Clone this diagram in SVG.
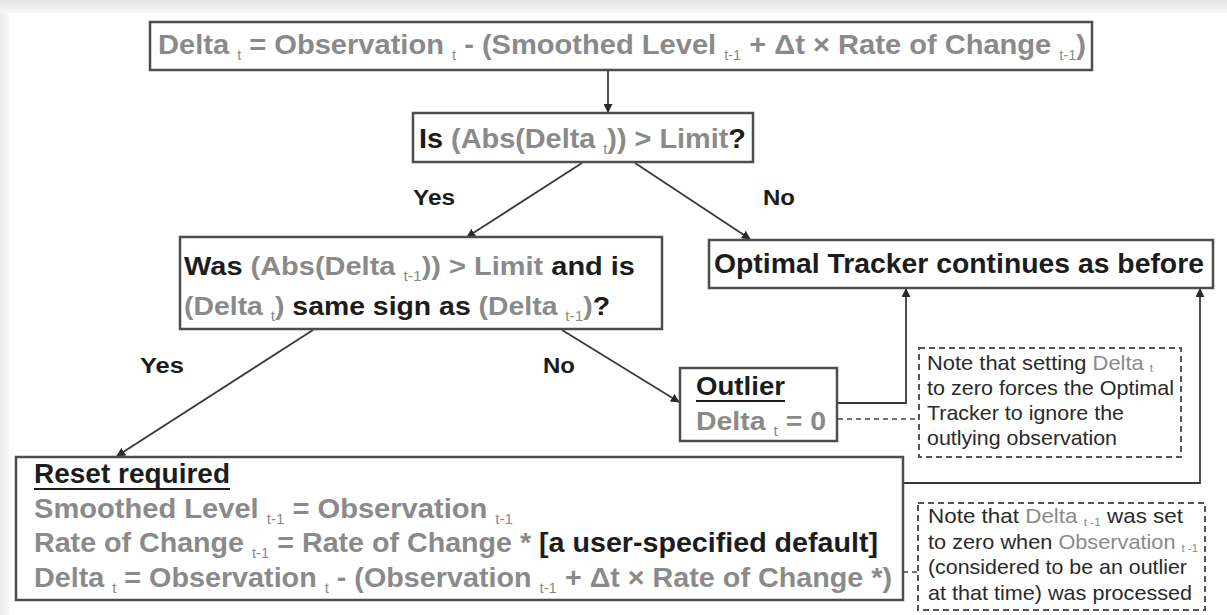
<svg xmlns="http://www.w3.org/2000/svg" width="1227" height="615" viewBox="0 0 1227 615">
  <defs>
    <linearGradient id="topShade" x1="0" y1="0" x2="0" y2="1">
      <stop offset="0" stop-color="#e4e4e4"/>
      <stop offset="1" stop-color="#f7f7f7"/>
    </linearGradient>
    <linearGradient id="leftShade" x1="0" y1="0" x2="1" y2="0">
      <stop offset="0" stop-color="#ececec"/>
      <stop offset="1" stop-color="#f8f8f8"/>
    </linearGradient>
    <marker id="arrow" viewBox="0 0 10 10" refX="9" refY="5" markerWidth="9" markerHeight="9" markerUnits="userSpaceOnUse" orient="auto">
      <path d="M0,0 L10,5 L0,10 z" fill="#2a2a2a"/>
    </marker>
    <style>
      .box { fill: #ffffff; stroke: #4d4d4d; stroke-width: 2.5; }
      .note { fill: #ffffff; stroke: #555555; stroke-width: 2; stroke-dasharray: 6 4; }
      .conn { fill: none; stroke: #3a3a3a; stroke-width: 1.8; }
      .dash { fill: none; stroke: #444444; stroke-width: 1.6; stroke-dasharray: 5 4; }
      text { font-family: "Liberation Sans Narrow", "Liberation Sans", Arial, sans-serif; font-weight: bold; fill: #1c1c1c; }
      .wide { font-family: "Liberation Sans", Arial, sans-serif; }
      .g { fill: #8a8a8a; }
      .k { fill: #1c1c1c; }
      .sub { font-size: 14px; font-weight: normal; }
      .nsub { font-size: 11px; font-weight: normal; }
      .lbl { font-size: 22px; }
      .nt { font-size: 21px; font-weight: normal; fill: #2a2a2a; }
      .ul { fill: none; stroke: #1c1c1c; stroke-width: 2; }
    </style>
  </defs>

  <!-- page background with soft frame -->
  <rect x="0" y="0" width="1227" height="615" fill="#ffffff"/>
  <rect x="0" y="0" width="1227" height="13" fill="url(#topShade)"/>
  <rect x="0" y="13" width="9" height="602" fill="url(#leftShade)"/>

  <!-- connectors -->
  <g id="connectors">
    <line class="conn" x1="608" y1="71" x2="608" y2="112" marker-end="url(#arrow)"/>
    <line class="conn" x1="582" y1="163" x2="467" y2="237" marker-end="url(#arrow)"/>
    <line class="conn" x1="635" y1="163" x2="750" y2="239" marker-end="url(#arrow)"/>
    <line class="conn" x1="313" y1="330" x2="117" y2="456" marker-end="url(#arrow)"/>
    <line class="conn" x1="562" y1="330" x2="679" y2="402" marker-end="url(#arrow)"/>
    <polyline class="conn" points="838,403 906,403 906,289" marker-end="url(#arrow)"/>
    <polyline class="conn" points="903,483 1200,483 1200,289" marker-end="url(#arrow)"/>
    <line class="dash" x1="838" y1="419" x2="918" y2="419"/>
    <line class="dash" x1="903" y1="572" x2="918" y2="572"/>
    <text class="lbl" x="413" y="205" textLength="42" lengthAdjust="spacingAndGlyphs">Yes</text>
    <text class="lbl" x="763" y="205" textLength="32" lengthAdjust="spacingAndGlyphs">No</text>
    <text class="lbl" x="140" y="373" textLength="44" lengthAdjust="spacingAndGlyphs">Yes</text>
    <text class="lbl" x="543" y="373" textLength="32" lengthAdjust="spacingAndGlyphs">No</text>
  </g>

  <!-- delta computation -->
  <g id="delta">
    <rect class="box" x="150" y="22" width="942" height="48"/>
    <text x="158" y="54" font-size="28" textLength="928" lengthAdjust="spacingAndGlyphs" class="g">Delta <tspan class="sub" dy="6">t</tspan><tspan dy="-6"> = Observation </tspan><tspan class="sub" dy="6">t</tspan><tspan dy="-6"> - (Smoothed Level </tspan><tspan class="sub" dy="6">t-1</tspan><tspan dy="-6"> + Δt × Rate of Change </tspan><tspan class="sub" dy="6">t-1</tspan><tspan dy="-6">)</tspan></text>
  </g>

  <!-- limit test -->
  <g id="limit-test">
    <rect class="box" x="413" y="113" width="340" height="49"/>
    <text x="419" y="148" font-size="28" textLength="327" lengthAdjust="spacingAndGlyphs"><tspan class="k">Is </tspan><tspan class="g">(Abs(Delta </tspan><tspan class="g sub" dy="6">t</tspan><tspan class="g" dy="-6">)) &gt; Limit</tspan><tspan class="k">?</tspan></text>
  </g>

  <!-- previous delta test -->
  <g id="previous-test">
    <rect class="box" x="180" y="237" width="482" height="92"/>
    <text class="wide" x="184" y="275" font-size="26" textLength="451" lengthAdjust="spacingAndGlyphs"><tspan class="k">Was </tspan><tspan class="g">(Abs(Delta </tspan><tspan class="g sub" dy="6">t-1</tspan><tspan class="g" dy="-6">)) &gt; Limit </tspan><tspan class="k">and is</tspan></text>
    <text class="wide" x="184" y="315" font-size="26" textLength="426" lengthAdjust="spacingAndGlyphs"><tspan class="g">(Delta </tspan><tspan class="g sub" dy="6">t</tspan><tspan class="g" dy="-6">)</tspan><tspan class="k"> same sign as </tspan><tspan class="g">(Delta </tspan><tspan class="g sub" dy="6">t-1</tspan><tspan class="g" dy="-6">)</tspan><tspan class="k">?</tspan></text>
  </g>

  <!-- continue -->
  <g id="continue">
    <rect class="box" x="709" y="240" width="504" height="48"/>
    <text class="wide k" x="714" y="273" font-size="27" textLength="490" lengthAdjust="spacingAndGlyphs">Optimal Tracker continues as before</text>
  </g>

  <!-- outlier -->
  <g id="outlier">
    <rect class="box" x="680" y="368" width="157" height="73"/>
    <text class="wide k" x="696" y="395" font-size="26" textLength="89" lengthAdjust="spacingAndGlyphs">Outlier</text>
    <line class="ul" x1="696" y1="401" x2="785" y2="401"/>
    <text class="wide g" x="696" y="430" font-size="26" textLength="130" lengthAdjust="spacingAndGlyphs">Delta <tspan class="sub" dy="6">t</tspan><tspan dy="-6"> = 0</tspan></text>
  </g>

  <!-- note on outlier -->
  <g id="outlier-note">
    <rect class="note" x="919" y="348" width="262" height="109"/>
    <text class="nt" x="927" y="370" textLength="226" lengthAdjust="spacingAndGlyphs">Note that setting <tspan class="g">Delta </tspan><tspan class="g nsub" dy="2">t</tspan></text>
    <text class="nt" x="927" y="395" textLength="247" lengthAdjust="spacingAndGlyphs">to zero forces the Optimal</text>
    <text class="nt" x="927" y="420" textLength="197" lengthAdjust="spacingAndGlyphs">Tracker to ignore the</text>
    <text class="nt" x="927" y="445" textLength="190" lengthAdjust="spacingAndGlyphs">outlying observation</text>
  </g>

  <!-- reset -->
  <g id="reset">
    <rect class="box" x="16" y="457" width="887" height="143"/>
    <text class="k" x="34" y="483" font-size="27" textLength="196" lengthAdjust="spacingAndGlyphs">Reset required</text>
    <line class="ul" x1="34" y1="489" x2="230" y2="489"/>
    <text class="g" x="34" y="518" font-size="27" textLength="479" lengthAdjust="spacingAndGlyphs">Smoothed Level <tspan class="sub" dy="6">t-1</tspan><tspan dy="-6"> = Observation </tspan><tspan class="sub" dy="6">t-1</tspan></text>
    <text class="g" x="34" y="552" font-size="27" textLength="844" lengthAdjust="spacingAndGlyphs">Rate of Change <tspan class="sub" dy="6">t-1</tspan><tspan dy="-6"> = Rate of Change * </tspan><tspan class="k">[a user-specified default]</tspan></text>
    <text class="g" x="34" y="587" font-size="27" textLength="858" lengthAdjust="spacingAndGlyphs">Delta <tspan class="sub" dy="6">t</tspan><tspan dy="-6"> = Observation </tspan><tspan class="sub" dy="6">t</tspan><tspan dy="-6"> - (Observation </tspan><tspan class="sub" dy="6">t-1</tspan><tspan dy="-6"> + Δt × Rate of Change *)</tspan></text>
  </g>

  <!-- note on reset -->
  <g id="reset-note">
    <rect class="note" x="918" y="503" width="287" height="107"/>
    <text class="nt" x="928" y="523" textLength="255" lengthAdjust="spacingAndGlyphs">Note that <tspan class="g">Delta </tspan><tspan class="g nsub" dy="3">t -1</tspan><tspan dy="-3">   was set</tspan></text>
    <text class="nt" x="928" y="549" textLength="270" lengthAdjust="spacingAndGlyphs">to zero when <tspan class="g">Observation </tspan><tspan class="g nsub" dy="3">t -1</tspan></text>
    <text class="nt" x="928" y="574" textLength="259" lengthAdjust="spacingAndGlyphs">(considered to be an outlier</text>
    <text class="nt" x="928" y="600" textLength="264" lengthAdjust="spacingAndGlyphs">at that time) was processed</text>
  </g>
</svg>
